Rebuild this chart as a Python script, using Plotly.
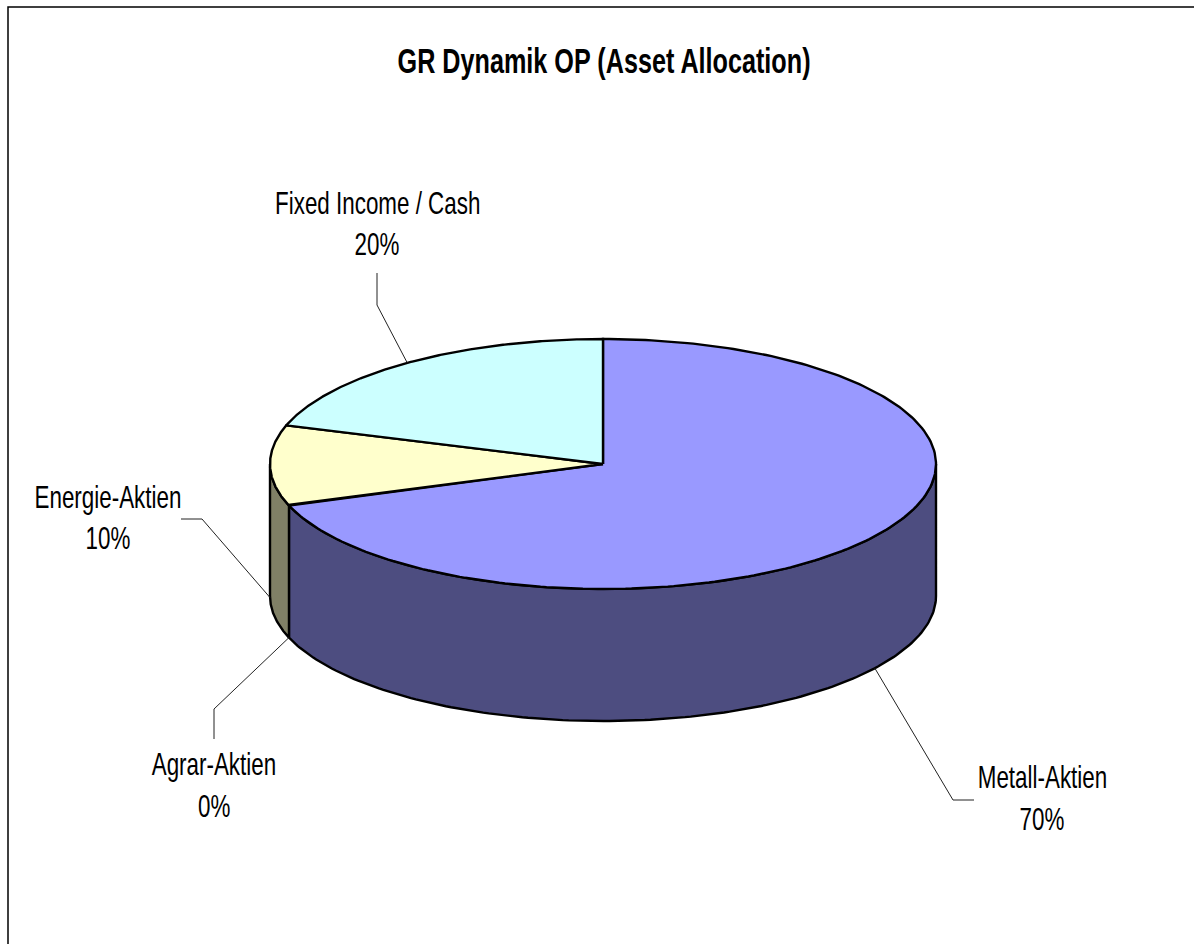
import numpy as np
import plotly.graph_objects as go

# Data
title_text = "GR Dynamik OP (Asset Allocation)"
categories = ["Metall-Aktien", "Agrar-Aktien", "Energie-Aktien", "Fixed Income / Cash"]
values = [69.6, 0.0, 10.4, 20.0]

# Style
top_colors = ["#9999FF", "#99CC99", "#FFFFCC", "#CCFFFF"]
side_colors = ["#4D4D80", "#4D664D", "#808066", "#668080"]
FONT = "Liberation Sans, Arial, sans-serif"
W, H = 1194, 944
CX, CY, RX, RY, DEPTH = 603, 464, 333, 125, 132
label_pos = {
    "Metall-Aktien": (1042, 777, 819),
    "Agrar-Aktien": (214, 764, 806),
    "Energie-Aktien": (108, 497, 538),
    "Fixed Income / Cash": (377, 203, 244),
}
leader_path = {
    "Metall-Aktien": [(953, 800), (974, 800)],
    "Agrar-Aktien": [(214, 709), (214, 739)],
    "Energie-Aktien": [(202, 519), (181, 519)],
    "Fixed Income / Cash": [(377, 305), (377, 273)],
}


def rim(theta, drop=0.0):
    t = np.radians(theta)
    return CX + RX * np.sin(t), CY - RY * np.cos(t) + drop


fig = go.Figure()


def poly(xs, ys, fill, width=2.4):
    fig.add_trace(go.Scatter(x=list(xs), y=list(ys), mode="lines", fill="toself",
                             fillcolor=fill, line=dict(color="#000000", width=width),
                             hoverinfo="skip", showlegend=False))


total = sum(values)
edges = np.cumsum([0] + values) / total * 360
spans = list(zip(edges[:-1], edges[1:]))

for (a, b), side in zip(spans, side_colors):
    lo, hi = max(a, 90), min(b, 270)
    if hi <= lo:
        continue
    th = np.linspace(lo, hi, 160)
    x1, y1 = rim(th)
    x2, y2 = rim(th[::-1], DEPTH)
    poly(np.r_[x1, x2, x1[0]], np.r_[y1, y2, y1[0]], side)

for (a, b), top, v in zip(spans, top_colors, values):
    if v <= 0:
        continue
    th = np.linspace(a, b, 240)
    x1, y1 = rim(th)
    poly(np.r_[CX, x1, CX], np.r_[CY, y1, CY], top)

annots = []
for name, v, (a, b) in zip(categories, values, spans):
    mid = (a + b) / 2
    drop = DEPTH if 90 < mid < 270 else 0
    ax, ay = rim(mid, drop)
    path = leader_path[name]
    fig.add_trace(go.Scatter(x=[ax] + [p[0] for p in path], y=[ay] + [p[1] for p in path],
                             mode="lines", line=dict(color="#222222", width=1),
                             hoverinfo="skip", showlegend=False))
    lx, ly1, ly2 = label_pos[name]
    for txt, ly in ((name, ly1), (f"{v / total * 100:.0f}%", ly2)):
        annots.append(dict(x=lx, y=ly, text=txt, showarrow=False, xanchor="center", yanchor="middle",
                           font=dict(family=FONT, size=32, color="#000000")))

annots.append(dict(x=604, y=60, text=f"<b>{title_text}</b>", showarrow=False, xanchor="center", yanchor="middle",
                   font=dict(family=FONT, size=36, color="#000000")))

fig.add_trace(go.Scatter(x=[8, 8, W], y=[H, 7, 7], mode="lines", line=dict(color="#000000", width=1.5),
                         hoverinfo="skip", showlegend=False))

fig.update_layout(
    width=W, height=H, margin=dict(l=0, r=0, t=0, b=0),
    paper_bgcolor="white", plot_bgcolor="white", annotations=annots,
    xaxis=dict(range=[0, W], visible=False, fixedrange=True),
    yaxis=dict(range=[H, 0], visible=False, fixedrange=True),
)

# Remove the page margin and condense the labels horizontally (Arial-Narrow look).
post = """
document.body.style.margin = '0';
document.querySelectorAll('text.annotation-text').forEach(function (t) {
  var b = t.getBBox();
  var c = b.x + b.width / 2;
  var s = b.height > 42 ? 0.69 : 0.7;
  t.setAttribute('transform', 'translate(' + c + ',0) scale(' + s + ',1) translate(' + (-c) + ',0)');
});
"""
fig.write_html("out.html", config={"displayModeBar": False}, post_script=post)
